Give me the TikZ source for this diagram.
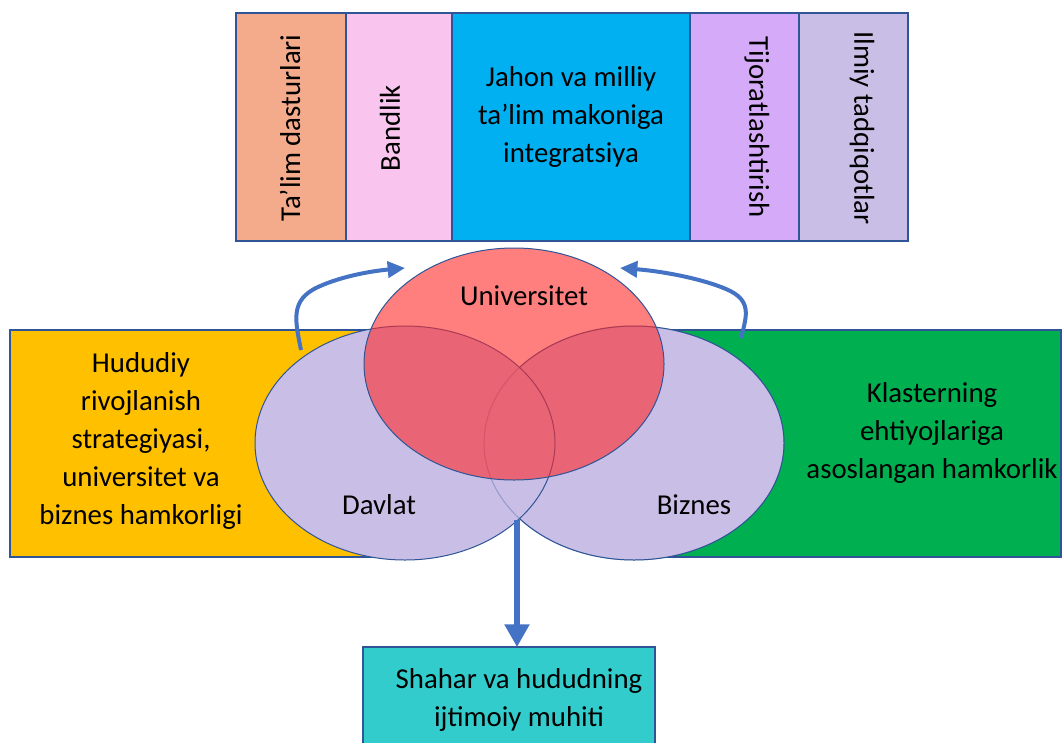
\documentclass[tikz,border=0pt]{standalone}
\usepackage{fontspec}
\setmainfont{Carlito}
\usetikzlibrary{arrows.meta}

\definecolor{frame}{RGB}{47,85,151}
\definecolor{arrowblue}{RGB}{68,114,196}
\definecolor{salmon}{RGB}{244,171,139}
\definecolor{pinkbox}{RGB}{249,197,238}
\definecolor{skyblue}{RGB}{0,176,240}
\definecolor{violetbox}{RGB}{213,170,248}
\definecolor{lavender}{RGB}{201,191,230}
\definecolor{goldbox}{RGB}{255,192,0}
\definecolor{greenbox}{RGB}{0,176,80}
\definecolor{redvenn}{RGB}{255,40,40}
\definecolor{tealbox}{RGB}{51,204,204}

\begin{document}
\begin{tikzpicture}[x=0.75pt,y=0.75pt,yscale=-1,xscale=1,
    font=\fontsize{21.6}{28.5}\selectfont,
    box/.style={draw=frame,line width=1.5pt},
    venn/.style={draw=frame,line width=0.75pt},
    lbl/.style={inner sep=0.75pt,align=center},
    curvearrow/.style={arrowblue,line width=3pt,-{Triangle[length=13pt,width=12pt]}}]
        \clip (0,0) rectangle (1062,742);
        \useasboundingbox (0,0) rectangle (1062,742);

        %Shape: Rectangle
        \draw [box,fill=salmon]    (236,13) rectangle (346,241) ;
        %Shape: Rectangle
        \draw [box,fill=pinkbox]   (346,13) rectangle (452,241) ;
        %Shape: Rectangle
        \draw [box,fill=skyblue]   (452,13) rectangle (690,241) ;
        %Shape: Rectangle
        \draw [box,fill=violetbox] (690,13) rectangle (799,241) ;
        %Shape: Rectangle
        \draw [box,fill=lavender]  (799,13) rectangle (908,241) ;
        %Shape: Rectangle
        \draw [box,fill=goldbox]   (10,330) rectangle (380,557) ;
        %Shape: Rectangle
        \draw [box,fill=greenbox]  (660,330) rectangle (1061,557) ;

        %Shape: Ellipse
        \draw [venn,fill=lavender] (634,443) ellipse [x radius=150,y radius=117] ;
        %Shape: Ellipse
        \draw [venn,fill=lavender] (405,443) ellipse [x radius=150,y radius=117] ;
        %Shape: Ellipse
        \draw [venn,draw opacity=0.35] (634,443) ellipse [x radius=150,y radius=117] ;
        %Shape: Ellipse
        \draw [venn,fill=redvenn,fill opacity=0.6] (514,364) ellipse [x radius=150,y radius=116] ;

        %Shape: Rectangle
        \draw [box,fill=tealbox]   (363,647) rectangle (655,760) ;

        \coordinate (lfoot) at (301,350) ;
        \coordinate (ltip) at (405,268) ;
        \coordinate (rfoot) at (741,338) ;
        \coordinate (rtip) at (620,268) ;
        \coordinate (vbot) at (517,520) ;

        %Curve Lines
        \draw [curvearrow] (lfoot) .. controls (295,320) and (290,300) .. (318,287) .. controls (342,276) and (372,271) .. (ltip) ;
        %Curve Lines
        \draw [curvearrow] (rfoot) .. controls (747,315) and (752,300) .. (726,289) .. controls (700,278) and (660,271) .. (rtip) ;

        % Text Node
        \draw (290,128) node (talim) [lbl,rotate=90] {Ta’lim dasturlari};
        % Text Node
        \draw (390,128) node (bandlik) [lbl,rotate=90] {Bandlik};
        % Text Node
        \draw (571,117) node (jahon) [lbl] {Jahon va milliy\\ta’lim makoniga\\integratsiya};
        % Text Node
        \draw (757,127) node (tijorat) [lbl,rotate=-90] {Tijoratlashtirish};
        % Text Node
        \draw (862,128) node (ilmiy) [lbl,rotate=-90] {Ilmiy tadqiqotlar};
        % Text Node
        \draw (141,441) node (hududiy) [lbl] {Hududiy\\rivojlanish\\strategiyasi,\\universitet va\\biznes hamkorligi};
        % Text Node
        \draw (932,433) node (klaster) [lbl] {Klasterning\\ehtiyojlariga\\asoslangan hamkorlik};
        % Text Node
        \draw (524,296) node (univ) [lbl] {Universitet};
        % Text Node
        \draw (379,505) node (davlat) [lbl] {Davlat};
        % Text Node
        \draw (694,505) node (biznes) [lbl] {Biznes};
        % Text Node
        \draw (519,700) node (shahar) [lbl] {Shahar va hududning\\ijtimoiy muhiti};

        %Straight Lines
        \draw [arrowblue,line width=4pt,-{Triangle[length=17pt,width=18pt]}] (vbot) -- (vbot |- 0,647) ;

\end{tikzpicture}
\end{document}
